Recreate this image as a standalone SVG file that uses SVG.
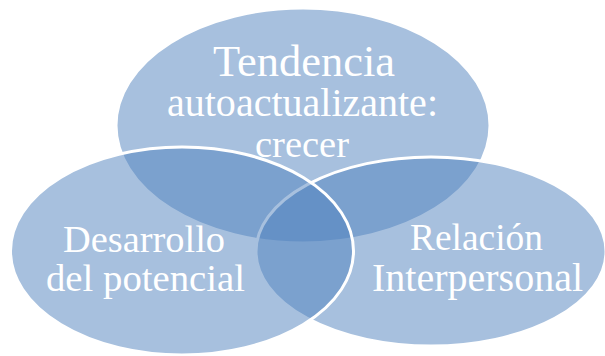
<svg xmlns="http://www.w3.org/2000/svg" width="605" height="356" viewBox="0 0 605 356">
<style>
.c{fill:#4F81BD;fill-opacity:0.5;stroke:#FFFFFF;stroke-width:3}
.t{font-family:"Liberation Serif","Times New Roman",serif;fill:#FFFFFF;text-anchor:middle}
</style>
<rect width="605" height="356" fill="#FFFFFF"/>
<g id="node-top">
<ellipse class="c" cx="303" cy="125.5" rx="187" ry="117.5"/>
</g>
<g id="node-right">
<ellipse class="c" cx="431" cy="251.5" rx="175" ry="94.5"/>
</g>
<g id="node-left">
<ellipse class="c" cx="182" cy="251" rx="171.5" ry="104"/>
</g>
<g id="connectors"></g>
<g id="labels">
<text class="t" x="304" y="76" font-size="43.5" textLength="182" lengthAdjust="spacingAndGlyphs">Tendencia</text>
<text class="t" x="302.5" y="116" font-size="39.5" textLength="271" lengthAdjust="spacingAndGlyphs">autoactualizante:</text>
<text class="t" x="302" y="157" font-size="38.5" textLength="94" lengthAdjust="spacingAndGlyphs">crecer</text>
<text class="t" x="144" y="252" font-size="38.5" textLength="162" lengthAdjust="spacingAndGlyphs">Desarrollo</text>
<text class="t" x="145.5" y="291" font-size="38.5" textLength="199" lengthAdjust="spacingAndGlyphs">del potencial</text>
<text class="t" x="476.5" y="250" font-size="38" textLength="133" lengthAdjust="spacingAndGlyphs">Relación</text>
<text class="t" x="477.5" y="291" font-size="39" textLength="211" lengthAdjust="spacingAndGlyphs">Interpersonal</text>
</g>
</svg>
